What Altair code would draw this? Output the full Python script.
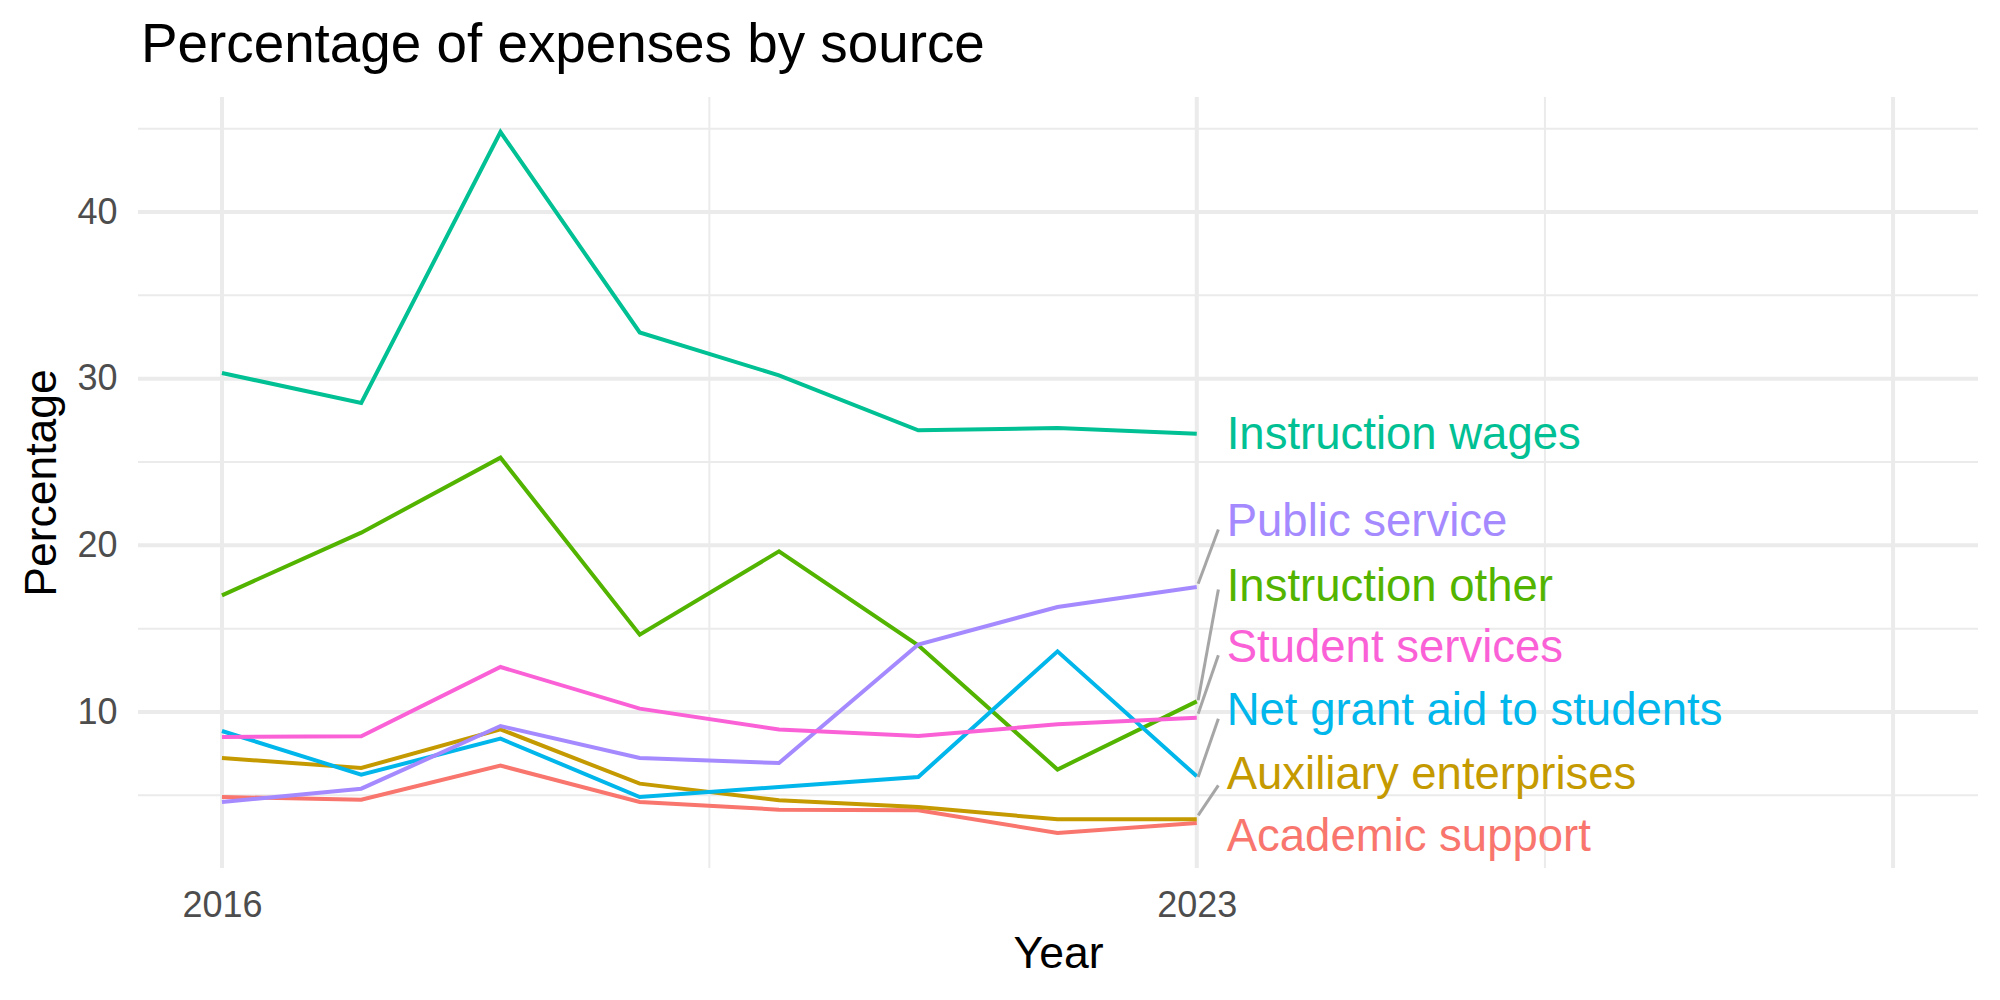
import altair as alt
import pandas as pd

FONT = "Liberation Sans"

years = [2016, 2017, 2018, 2019, 2020, 2021, 2022, 2023]

series_names = [
    "Academic support",
    "Auxiliary enterprises",
    "Instruction other",
    "Instruction wages",
    "Net grant aid to students",
    "Public service",
    "Student services",
]
series_colors = ["#F8766D", "#C49A00", "#53B400", "#00C094", "#00B6EB", "#A58AFF", "#FB61D7"]

academic_support = [4.90, 4.74, 6.78, 4.60, 4.14, 4.10, 2.74, 3.34]
auxiliary_enterprises = [7.24, 6.64, 8.96, 5.70, 4.70, 4.30, 3.56, 3.56]
instruction_other = [17.00, 20.76, 25.26, 14.64, 19.64, 14.00, 6.55, 10.64]
instruction_wages = [30.34, 28.54, 44.80, 32.77, 30.20, 26.90, 27.04, 26.70]
net_grant_aid = [8.86, 6.24, 8.40, 4.90, 5.50, 6.10, 13.64, 6.14]
public_service = [4.60, 5.40, 9.16, 7.24, 6.94, 14.05, 16.30, 17.50]
student_services = [8.50, 8.54, 12.70, 10.20, 8.95, 8.56, 9.26, 9.66]

# repelled label positions (value axis) and leader segments
label_x = 2023.215
label_y = [2.50, 6.25, 17.53, 26.65, 10.05, 21.40, 13.85]
seg_series = ["Auxiliary enterprises", "Instruction other", "Net grant aid to students",
              "Public service", "Student services"]
seg_y_start = [3.80, 10.70, 6.10, 17.70, 9.90]
seg_y_end = [5.60, 17.35, 9.60, 20.95, 13.40]
seg_x_start = 2023.01
seg_x_end = 2023.155

x_major = [2016, 2023, 2028]
x_minor = [2019.5, 2025.5]
x_labels = [2016, 2023]
y_major = [10, 20, 30, 40]
y_minor = [5, 15, 25, 35, 45]

x_domain = [2015.397, 2028.61]
y_domain = [0.64, 46.9]

all_values = [academic_support, auxiliary_enterprises, instruction_other, instruction_wages,
              net_grant_aid, public_service, student_services]
rows = []
for name, vals in zip(series_names, all_values):
    for yr, v in zip(years, vals):
        rows.append({"Year": yr, "Percentage": v, "Source": name})
df = pd.DataFrame(rows)

labels_df = pd.DataFrame({"Source": series_names, "x": [label_x] * len(series_names), "y": label_y})
seg_df = pd.DataFrame({"Source": seg_series, "x": [seg_x_start] * len(seg_series),
                       "x2": [seg_x_end] * len(seg_series), "y": seg_y_start, "y2": seg_y_end})

W, H = 1840, 771

xs = alt.Scale(domain=x_domain, nice=False, zero=False)
ys = alt.Scale(domain=y_domain, nice=False, zero=False)
cs = alt.Scale(domain=series_names, range=series_colors)

x_axis = alt.Axis(
    values=x_labels, format="d", grid=False, ticks=False, tickSize=0, domain=False,
    labelFont=FONT, labelFontSize=36, labelColor="#4D4D4D",
    labelBaseline="alphabetic", labelPadding=48,
    title="Year", titleFont=FONT, titleFontSize=44.5, titleFontWeight="normal",
    titleColor="black", titleX=W / 2, titleY=99, titleBaseline="alphabetic",
    titleAlign="center")
y_axis = alt.Axis(
    values=y_major, grid=False, ticks=False, tickSize=0, domain=False,
    labelFont=FONT, labelFontSize=36, labelColor="#4D4D4D", labelPadding=21,
    labelAlign="right", labelBaseline="middle",
    title="Percentage", titleFont=FONT, titleFontSize=44.5, titleFontWeight="normal",
    titleColor="black", titleX=-83, titleY=H / 2, titleAngle=270,
    titleBaseline="alphabetic", titleAlign="center")

xminor_rules = alt.Chart(pd.DataFrame({"v": x_minor})).mark_rule(
    color="#EBEBEB", strokeWidth=2).encode(x=alt.X("v:Q", scale=xs, axis=x_axis))
yminor_rules = alt.Chart(pd.DataFrame({"v": y_minor})).mark_rule(
    color="#EBEBEB", strokeWidth=2).encode(y=alt.Y("v:Q", scale=ys, axis=y_axis))
xmajor_rules = alt.Chart(pd.DataFrame({"v": x_major})).mark_rule(
    color="#EBEBEB", strokeWidth=4).encode(x=alt.X("v:Q", scale=xs, axis=x_axis))
ymajor_rules = alt.Chart(pd.DataFrame({"v": y_major})).mark_rule(
    color="#EBEBEB", strokeWidth=4).encode(y=alt.Y("v:Q", scale=ys, axis=y_axis))

lines = alt.Chart(df).mark_line(strokeWidth=4).encode(
    x=alt.X("Year:Q", scale=xs, axis=x_axis),
    y=alt.Y("Percentage:Q", scale=ys, axis=y_axis),
    color=alt.Color("Source:N", scale=cs, legend=None),
    detail="Source:N",
)

segments = alt.Chart(seg_df).mark_rule(color="#A6A6A6", strokeWidth=3).encode(
    x=alt.X("x:Q", scale=xs, axis=x_axis), x2="x2:Q",
    y=alt.Y("y:Q", scale=ys, axis=y_axis), y2="y2:Q",
)

texts = alt.Chart(labels_df).mark_text(
    align="left", baseline="middle", font=FONT, fontSize=45.5).encode(
    x=alt.X("x:Q", scale=xs, axis=x_axis),
    y=alt.Y("y:Q", scale=ys, axis=y_axis),
    text="Source:N",
    color=alt.Color("Source:N", scale=cs, legend=None),
)

chart = alt.layer(
    xminor_rules, yminor_rules, xmajor_rules, ymajor_rules, lines, segments, texts
).properties(
    width=W, height=H,
    autosize=alt.AutoSizeParams(type="none"),
    padding={"left": 138, "top": 97, "right": 22, "bottom": 132},
    background="white",
    title=alt.TitleParams(
        "Percentage of expenses by source", anchor="start", frame="group",
        font=FONT, fontSize=54.8, fontWeight="normal", color="black",
        baseline="alphabetic", offset=35, dx=3, dy=57),
).configure_view(stroke=None)

chart.save("out.html", embed_options={"renderer": "svg", "actions": False})
